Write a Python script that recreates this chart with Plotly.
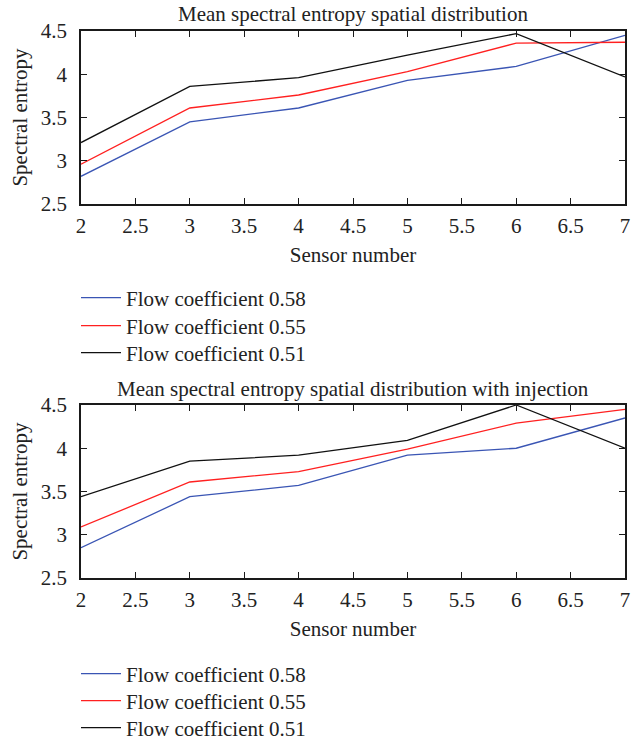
import plotly.graph_objects as go

sensors = [2, 3, 4, 5, 6, 7]
series_names = ["Flow coefficient 0.58", "Flow coefficient 0.55", "Flow coefficient 0.51"]
colors = ["#3a55b4", "#ff2020", "#111111"]

top_058 = [2.82, 3.45, 3.61, 3.93, 4.09, 4.45]
top_055 = [2.96, 3.61, 3.76, 4.03, 4.36, 4.37]
top_051 = [3.21, 3.86, 3.96, 4.22, 4.47, 3.97]

bot_058 = [2.85, 3.44, 3.57, 3.92, 4.00, 4.35]
bot_055 = [3.09, 3.61, 3.73, 3.99, 4.29, 4.45]
bot_051 = [3.44, 3.85, 3.92, 4.09, 4.50, 4.00]

title_top = "Mean spectral entropy spatial distribution"
title_bot = "Mean spectral entropy spatial distribution with injection"
x_title = "Sensor number"
y_title = "Spectral entropy"

FONT = "Liberation Serif"
FS = 21
TXT = "#222"
W, H = 644, 742

# legend row centres (px from top)
legend_rows_top = [298, 326, 353]
legend_rows_bot = [674, 701, 728]

fig = go.Figure()
legend_layout = {}
idx = 1
for panel, (xa, ya, groups, rows) in enumerate([
        ("x", "y", [top_058, top_055, top_051], legend_rows_top),
        ("x2", "y2", [bot_058, bot_055, bot_051], legend_rows_bot)]):
    for vals, name, col, row in zip(groups, series_names, colors, rows):
        lname = "legend" if idx == 1 else f"legend{idx}"
        fig.add_trace(go.Scatter(x=sensors, y=vals, mode="lines", name=name,
                                 line=dict(color=col, width=1.3), showlegend=True,
                                 xaxis=xa, yaxis=ya, legend=lname))
        legend_layout[lname] = dict(x=76 / W, y=1 - row / H, xanchor="left", yanchor="middle",
                                    font=dict(family=FONT, size=FS, color=TXT), itemwidth=40,
                                    bgcolor="rgba(0,0,0,0)", borderwidth=0, visible=True)
        idx += 1

xl, xr = 81 / W, 625 / W
top_dom = [1 - 204 / H, 1 - 31 / H]
bot_dom = [1 - 578 / H, 1 - 405 / H]

axis_common = dict(showline=True, linecolor="#1a1a1a", linewidth=1.6, mirror="ticks",
                   ticks="inside", ticklen=6, tickcolor="#1a1a1a", tickwidth=1.2,
                   showgrid=False, zeroline=False,
                   tickfont=dict(family=FONT, size=FS, color=TXT))

xaxis_common = dict(range=[2, 7], dtick=0.5, ticklabelstandoff=2,
                    title=dict(text=x_title, standoff=10, font=dict(family=FONT, size=FS, color=TXT)),
                    **axis_common)
yaxis_common = dict(range=[2.5, 4.5], dtick=0.5, ticklabelstandoff=8,
                    title=dict(text=y_title, standoff=7, font=dict(family=FONT, size=FS, color=TXT)),
                    **axis_common)

fig.update_layout(
    width=W, height=H, margin=dict(l=0, r=0, t=0, b=0, autoexpand=False),
    paper_bgcolor="white", plot_bgcolor="white", showlegend=True,
    font=dict(family=FONT, size=FS, color=TXT),
    xaxis=dict(domain=[xl, xr], anchor="y", **xaxis_common),
    yaxis=dict(domain=top_dom, anchor="x", **yaxis_common),
    xaxis2=dict(domain=[xl, xr], anchor="y2", **xaxis_common),
    yaxis2=dict(domain=bot_dom, anchor="x2", **yaxis_common),
    annotations=[
        dict(text=title_top, x=(xl + xr) / 2, y=1 - 14 / H, xref="paper", yref="paper",
             showarrow=False, font=dict(family=FONT, size=FS, color=TXT), yanchor="middle"),
        dict(text=title_bot, x=(xl + xr) / 2, y=1 - 389 / H, xref="paper", yref="paper",
             showarrow=False, font=dict(family=FONT, size=FS, color=TXT), yanchor="middle"),
    ],
    **legend_layout,
)

fig.write_html("out.html")
